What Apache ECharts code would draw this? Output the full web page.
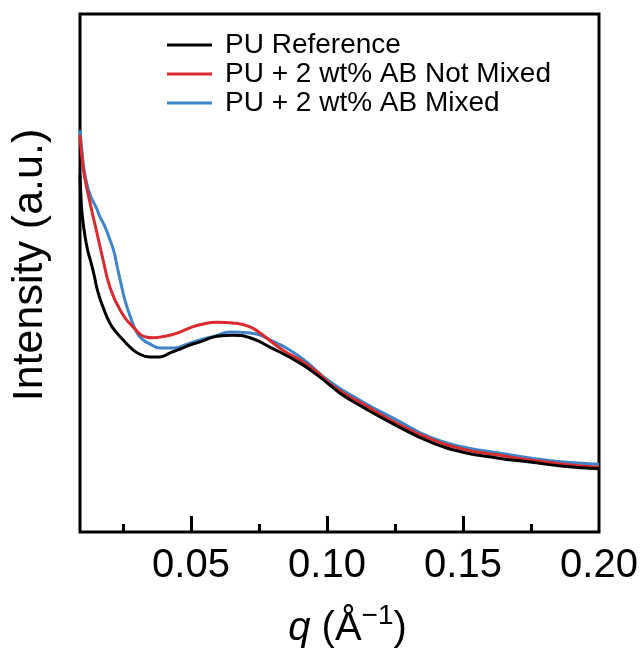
<!DOCTYPE html>
<html>
<head>
<meta charset="utf-8">
<script src="https://cdn.jsdelivr.net/npm/echarts@6/dist/echarts.min.js"></script>
<style>
html,body{margin:0;padding:0;background:#fff;}
#c{width:640px;height:652px;}
</style>
</head>
<body>
<div id="c"></div>
<script>
// Series names
var seriesNames = ['PU Reference', 'PU + 2 wt% AB Not Mixed', 'PU + 2 wt% AB Mixed'];
// q (Å^-1) and intensity (a.u.)
var refQ = [0.0092,0.0096,0.0099,0.0107,0.0114,0.0121,0.0132,0.0143,0.0158,0.0177,0.0202,0.0228,0.0250,0.0276,0.0302,0.0349,0.0386,0.0423,0.0449,0.0496,0.0533,0.0596,0.0654,0.0717,0.0790,0.0901,0.0974,0.1048,0.1132,0.1257,0.1379,0.1500,0.1625,0.1746,0.1868,0.2000];
var refI = [68.9,64.1,61.8,58.3,56.0,54.2,52.1,49.8,46.3,43.4,40.3,38.4,37.1,35.7,34.6,33.8,33.8,34.6,35.1,36.1,36.7,37.8,38.0,37.5,35.7,32.6,29.9,26.8,24.1,20.5,17.4,15.4,14.3,13.5,12.7,12.2];
var notMixedQ = [0.0092,0.0103,0.0114,0.0129,0.0154,0.0177,0.0202,0.0239,0.0287,0.0338,0.0360,0.0404,0.0449,0.0496,0.0533,0.0596,0.0662,0.0717,0.0754,0.0838,0.0901,0.0963,0.1011,0.1074,0.1132,0.1257,0.1379,0.1500,0.1625,0.1746,0.1868,0.2000];
var notMixedI = [76.6,70.5,67.2,63.5,57.8,52.5,47.3,42.9,39.6,37.6,37.5,37.8,38.4,39.4,40.0,40.5,40.3,39.6,38.4,35.1,33.2,30.9,28.6,26.4,24.7,21.0,18.0,16.0,14.9,13.9,13.1,12.5];
var mixedQ = [0.0092,0.0099,0.0107,0.0118,0.0132,0.0151,0.0166,0.0184,0.0202,0.0217,0.0228,0.0243,0.0257,0.0276,0.0302,0.0324,0.0349,0.0386,0.0434,0.0478,0.0533,0.0588,0.0643,0.0717,0.0790,0.0901,0.1011,0.1132,0.1257,0.1379,0.1500,0.1625,0.1746,0.1868,0.2000];
var mixedI = [77.6,73.7,69.9,67.0,64.7,62.7,60.8,58.9,56.4,54.1,51.4,47.9,44.8,41.7,38.4,37.1,36.3,35.5,35.5,36.1,37.1,37.8,38.6,38.4,37.1,33.8,29.0,25.1,21.6,18.3,16.4,15.3,14.3,13.5,13.1];
// Tick values
var majorTicks = [0.05, 0.10, 0.15, 0.20];
var majorTickMarks = [0.05, 0.10, 0.15];
var minorTicks = [0.025, 0.075, 0.125, 0.175];
var xMin = 0.0092, xMax = 0.20;

function zip(a, b) { return a.map(function (v, i) { return [v, b[i]]; }); }

var FONT = '"Liberation Sans", Arial, Helvetica, sans-serif';
var colors = ['#000000', '#d92a2e', '#3d85c6'];
var chart = echarts.init(document.getElementById('c'), null, {renderer: 'canvas'});
var datasets = [zip(refQ, refI), zip(notMixedQ, notMixedI), zip(mixedQ, mixedI)];

chart.setOption({
  animation: false,
  backgroundColor: '#fff',
  grid: {left: 80, right: 41, top: 14, bottom: 120, show: true, borderColor: '#000', borderWidth: 3,
    containLabel: false, outerBoundsMode: 'none'},
  legend: {
    orient: 'vertical', left: 167, top: 31, padding: 0, itemWidth: 45, itemHeight: 3, itemGap: 1,
    icon: 'rect',
    textStyle: {fontFamily: FONT, fontSize: 28, color: '#000', lineHeight: 28, padding: [0, 0, 0, 8]},
    data: seriesNames
  },
  xAxis: [{
    type: 'value', min: xMin, max: xMax, position: 'bottom',
    axisLine: {show: false},
    splitLine: {show: false},
    axisTick: {show: true, inside: true, length: 16, lineStyle: {color: '#000', width: 3}, customValues: majorTickMarks},
    axisLabel: {customValues: majorTicks, margin: 14, fontFamily: FONT, fontSize: 40, color: '#000',
      formatter: function (v) { return v.toFixed(2); }},
    name: '{i|q} ({n|Å}{s|−1})',
    nameLocation: 'middle', nameGap: 70,
    nameTextStyle: {fontFamily: FONT, fontSize: 40, color: '#000', padding: [0, 0, 0, 16],
      rich: {
        i: {fontFamily: FONT, fontSize: 40, fontStyle: 'italic', color: '#000'},
        n: {fontFamily: FONT, fontSize: 40, color: '#000'},
        s: {fontFamily: FONT, fontSize: 28, color: '#000', verticalAlign: 'top', padding: [0, 0, 26, 0]}
      }}
  }, {
    type: 'value', min: xMin, max: xMax, position: 'bottom',
    axisLine: {show: false}, splitLine: {show: false},
    axisTick: {show: true, inside: true, length: 8, lineStyle: {color: '#000', width: 3}, customValues: minorTicks},
    axisLabel: {show: false, customValues: minorTicks}
  }],
  yAxis: {
    type: 'value', min: 0, max: 100,
    axisLine: {show: false}, axisTick: {show: false}, axisLabel: {show: false}, splitLine: {show: false},
    name: 'Intensity (a.u.)', nameLocation: 'middle', nameGap: 28, nameRotate: 90,
    nameTextStyle: {fontFamily: FONT, fontSize: 43, color: '#000', padding: [0, 0, 0, 16]}
  },
  series: seriesNames.map(function (n, i) {
    return {
      name: n, type: 'line', data: datasets[i], showSymbol: false, smooth: 0.5,
      lineStyle: {color: colors[i], width: 3}, itemStyle: {color: colors[i]}, z: 3 - i + 2
    };
  })
});
</script>
</body>
</html>
